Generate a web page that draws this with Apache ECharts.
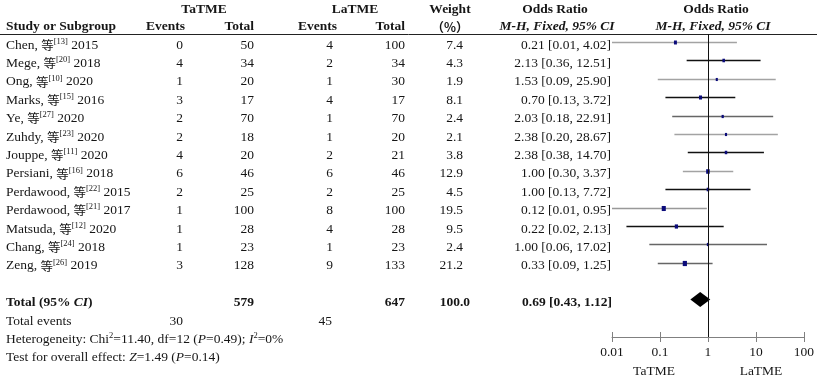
<!DOCTYPE html>
<html><head><meta charset="utf-8">
<script src="https://cdn.jsdelivr.net/npm/echarts@6/dist/echarts.min.js"></script>
<style>html,body{margin:0;padding:0;background:#fff}#c{width:817px;height:379px}</style>
</head><body><div id="c"></div>
<script>
// ---------- data ----------
const studies = ['Chen','Mege','Ong','Marks','Ye','Zuhdy','Jouppe','Persiani','Perdawood','Perdawood','Matsuda','Chang','Zeng'];
const refs = [13,20,10,15,27,23,11,16,22,21,12,24,26];
const years = [2015,2018,2020,2016,2020,2020,2020,2018,2015,2017,2020,2018,2019];
const taEvents = [0,4,1,3,2,2,4,6,2,1,1,1,3];
const taTotal = [50,34,20,17,70,18,20,46,25,100,28,23,128];
const laEvents = [4,2,1,4,1,1,2,6,2,8,4,1,9];
const laTotal = [100,34,30,17,70,20,21,46,25,100,28,23,133];
const weights = [7.4,4.3,1.9,8.1,2.4,2.1,3.8,12.9,4.5,19.5,9.5,2.4,21.2];
const oddsRatio = [0.21,2.13,1.53,0.70,2.03,2.38,2.38,1.00,1.00,0.12,0.22,1.00,0.33];
const ciLow = [0.01,0.36,0.09,0.13,0.18,0.20,0.38,0.30,0.13,0.01,0.02,0.06,0.09];
const ciHigh = [4.02,12.51,25.90,3.72,22.91,28.67,14.70,3.37,7.72,0.95,2.13,17.02,1.25];
const pooled = [0.69,0.43,1.12]; // OR, low, high
const totalTa = 579, totalLa = 647, eventsTa = 30, eventsLa = 45, totalWeight = 100.0;
const heterogeneity = {chi2:'11.40', df:'12', p:'0.49', i2:'0%'};
const overall = {z:'1.49', p:'0.14'};
const tickLabels = ['0.01','0.1','1','10','100'];
const groupLabels = ['TaTME','LaTME'];

// ---------- styles ----------
const SERIF = "'Liberation Serif','Times New Roman',serif";
const CJK = "'Noto Sans CJK SC',sans-serif";
const INK = '#161616';
const FS = 13.5;
const lineShade = ['#a3a3a3','#111','#a3a3a3','#111','#666','#a3a3a3','#111','#a3a3a3','#111','#999','#111','#666','#666'];
const totalRow = 14;

const chart = echarts.init(document.getElementById('c'), null, {renderer:'canvas'});
const ciData = studies.map((s,i)=>[ciLow[i], ciHigh[i], oddsRatio[i], i, weights[i]]);

const option = {
  animation:false,
  grid:{left:612, top:34, width:193, height:303},
  xAxis:[
    {type:'log', logBase:10, min:0.01, max:100, position:'bottom', offset:0,
     axisLine:{show:true, onZero:false, lineStyle:{color:'#808080', width:1}},
     axisTick:{show:true, length:5, lineStyle:{color:'#808080'}},
     axisLabel:{show:true, margin:8, color:INK, fontFamily:SERIF, fontSize:FS,
       formatter:v=>tickLabels[Math.round(Math.log10(v))+2]},
     splitLine:{show:false}, minorTick:{show:false}},
    {type:'log', logBase:10, min:0.01, max:100, position:'bottom', offset:0, gridIndex:0,
     axisLine:{show:false, onZero:false},
     axisTick:{show:true, inside:true, length:5, lineStyle:{color:'#808080'}},
     axisLabel:{show:false}, splitLine:{show:false}}
  ],
  yAxis:{type:'value', min:-0.4348, max:16.033, inverse:true, show:false},
  series:[
    {type:'custom', xAxisIndex:0, data:ciData, encode:{x:[0,1,2], y:3}, z:3,
     renderItem:(params, api)=>{
       const idx = params.dataIndex;
       const y = api.value(3);
       const p1 = api.coord([api.value(0), y]);
       const p2 = api.coord([api.value(1), y]);
       const pc = api.coord([api.value(2), y]);
       const w = 1.2 + Math.sqrt(api.value(4))*0.65;
       const h = w + 1;
       const yy = Math.round(p1[1]) + 0.5;
       return {type:'group', children:[
         {type:'line', shape:{x1:p1[0], y1:yy, x2:p2[0], y2:yy}, style:{stroke:lineShade[idx], lineWidth:1.3}},
         {type:'rect', shape:{x:pc[0]-w/2, y:yy-h/2, width:w, height:h}, style:{fill:'#0b0b7a'}}
       ]};
     },
     markLine:{silent:true, symbol:['none','none'], label:{show:false},
       lineStyle:{color:'#111', width:1, type:'solid'}, data:[{xAxis:1}]}
    },
    {type:'custom', xAxisIndex:0, data:[[pooled[1], pooled[2], pooled[0], totalRow]], encode:{x:[0,1,2], y:3}, z:4,
     renderItem:(params, api)=>{
       const y = api.value(3);
       const pl = api.coord([api.value(0), y]);
       const ph = api.coord([api.value(1), y]);
       const pc = api.coord([api.value(2), y]);
       const hh = 7.5;
       return {type:'polygon', shape:{points:[[pl[0], pc[1]], [pc[0], pc[1]-hh], [ph[0], pc[1]], [pc[0], pc[1]+hh]]},
         style:{fill:'#000'}};
     }}
  ]
};
chart.setOption(option);

// ---------- table text ----------
const py = v => chart.convertToPixel({yAxisIndex:0}, v) + 3;
const base = {fontFamily:SERIF, fontSize:FS, fill:INK, lineHeight:16};
const rich = {
  a:{...base},
  b:{...base, fontWeight:'bold'},
  bi:{...base, fontWeight:'bold', fontStyle:'italic'},
  i:{...base, fontStyle:'italic'},
  c:{fontFamily:CJK, fontSize:12.5, fill:INK, lineHeight:16},
  s:{fontFamily:SERIF, fontSize:8.5, fill:INK, lineHeight:9, verticalAlign:'top'}
};
function T(x, y, text, align, font){
  return {type:'text', x:x, y:y, silent:true,
    style:Object.assign({text:text, align:align, verticalAlign:'middle', rich:rich}, base, font||{})};
}
const B = {fontWeight:'bold'};
const els = [];
// headers
const h1 = 10, h2 = 27;
els.push(T(204, h1, groupLabels[0], 'center', B));
els.push(T(355, h1, groupLabels[1], 'center', B));
els.push(T(450, h1, 'Weight', 'center', B));
els.push(T(555, h1, 'Odds Ratio', 'center', B));
els.push(T(716, h1, 'Odds Ratio', 'center', B));
els.push(T(6, h2, 'Study or Subgroup', 'left', B));
els.push(T(185, h2, 'Events', 'right', B));
els.push(T(254, h2, 'Total', 'right', B));
els.push(T(337, h2, 'Events', 'right', B));
els.push(T(405, h2, 'Total', 'right', B));
els.push(T(450, h2, '（%）', 'center', {fontFamily:CJK, fontSize:12.5, fontWeight:'bold'}));
els.push(T(557, h2, 'M-H, Fixed, 95% CI', 'center', {fontWeight:'bold', fontStyle:'italic'}));
els.push(T(713, h2, 'M-H, Fixed, 95% CI', 'center', {fontWeight:'bold', fontStyle:'italic'}));
els.push({type:'line', silent:true, shape:{x1:0, y1:34.5, x2:817, y2:34.5}, style:{stroke:'#222', lineWidth:1}});
// study rows
studies.forEach((s,i)=>{
  const y = py(i);
  els.push(T(6, y, '{a|'+s+', }{c|等}{s|['+refs[i]+']}{a| '+years[i]+'}', 'left'));
  els.push(T(183, y, String(taEvents[i]), 'right'));
  els.push(T(254, y, String(taTotal[i]), 'right'));
  els.push(T(333, y, String(laEvents[i]), 'right'));
  els.push(T(405, y, String(laTotal[i]), 'right'));
  els.push(T(463, y, weights[i].toFixed(1), 'right'));
  els.push(T(611, y, oddsRatio[i].toFixed(2)+' ['+ciLow[i].toFixed(2)+', '+ciHigh[i].toFixed(2)+']', 'right'));
});
// totals
const yt = py(totalRow);
els.push(T(6, yt, '{b|Total (95% }{bi|CI}{b|)}', 'left'));
els.push(T(254, yt, String(totalTa), 'right', B));
els.push(T(405, yt, String(totalLa), 'right', B));
els.push(T(470, yt, totalWeight.toFixed(1), 'right', B));
els.push(T(612, yt, pooled[0].toFixed(2)+' ['+pooled[1].toFixed(2)+', '+pooled[2].toFixed(2)+']', 'right', B));
const ye = py(totalRow+1);
els.push(T(6, ye, 'Total events', 'left'));
els.push(T(183, ye, String(eventsTa), 'right'));
els.push(T(332, ye, String(eventsLa), 'right'));
els.push(T(6, py(totalRow+2), '{a|Heterogeneity: Chi}{s|2}{a|='+heterogeneity.chi2+', df='+heterogeneity.df+' (}{i|P}{a|='+heterogeneity.p+'); }{i|I}{s|2}{a|='+heterogeneity.i2+'}', 'left'));
els.push(T(6, py(totalRow+3), '{a|Test for overall effect: }{i|Z}{a|='+overall.z+' (}{i|P}{a|='+overall.p+')}', 'left'));
// group labels under axis
els.push(T(654, 371, groupLabels[0], 'center'));
els.push(T(761, 371, groupLabels[1], 'center'));
chart.setOption({graphic:{elements:els}});
</script></body></html>
